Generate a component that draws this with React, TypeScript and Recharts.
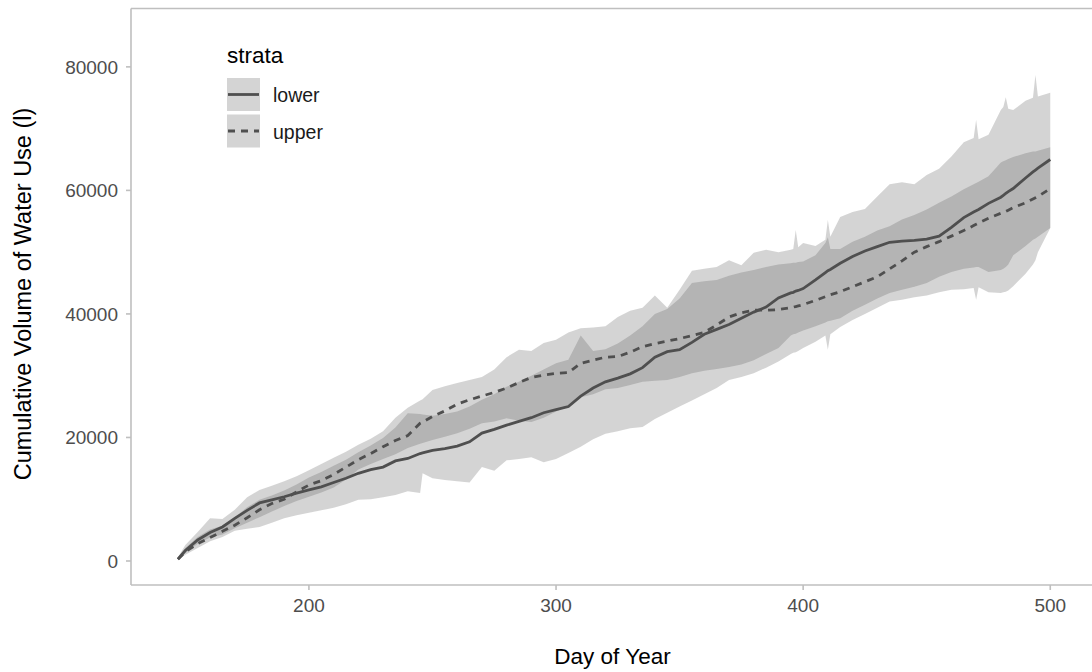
import { ComposedChart, Area, Line, XAxis, YAxis, ReferenceLine, Legend, Label } from 'recharts'

// day of year and the cumulative water use (l)
const days = [
  147, 150, 155, 160, 165, 170, 175, 180, 185, 190, 195, 200, 205, 210, 215, 220, 225, 230, 235, 240,
  245, 246, 250, 255, 260, 265, 270, 275, 280, 285, 290, 295, 300, 305, 310, 315, 320, 325, 330, 335,
  340, 345, 350, 355, 360, 365, 370, 375, 380, 385, 390, 395, 396, 397, 398, 400, 405, 409, 410, 411,
  415, 420, 425, 430, 435, 440, 445, 450, 455, 460, 465, 469, 470, 471, 475, 480, 481, 482, 483, 485,
  490, 493, 494, 495, 500,
]
const lowerMean = [
  300, 1700, 3400, 4600, 5500, 6900, 8200, 9400, 9900, 10400, 11000, 11500, 12000, 12700, 13400, 14200, 14800, 15200, 16200, 16600,
  17400, 17500, 17900, 18200, 18600, 19300, 20700, 21300, 22000, 22600, 23200, 24000, 24500, 25000, 26700, 28000, 29000, 29600, 30300, 31300,
  33000, 33900, 34200, 35400, 36700, 37500, 38300, 39300, 40300, 41100, 42600, 43400, 43500, 43700, 43800, 44100, 45500, 46700, 47000, 47200,
  48200, 49300, 50200, 50900, 51600, 51800, 51900, 52100, 52600, 54000, 55600, 56500, 56700, 56900, 57900, 58900, 59200, 59500, 59800, 60300,
  62000, 63000, 63300, 63600, 65000,
]
const upperMean = [
  300, 1500, 2800, 3800, 4800, 5800, 7000, 8300, 9300, 10000, 11200, 12300, 13000, 14000, 15200, 16400, 17400, 18500, 19500, 20300,
  22300, 22500, 23400, 24300, 25400, 26100, 26700, 27300, 28000, 28900, 29700, 30100, 30400, 30500, 32000, 32500, 33000, 33100, 33800, 34700,
  35200, 35600, 36000, 36500, 37000, 38200, 39500, 40200, 40600, 40600, 40700, 41000, 41100, 41200, 41300, 41500, 42200, 42800, 43000, 43100,
  43600, 44400, 45200, 46000, 47300, 48600, 50000, 50900, 51700, 52600, 53500, 54300, 54500, 54700, 55500, 56300, 56500, 56600, 56800, 57200,
  58000, 58600, 58800, 59000, 60300,
]
const lowerLo = [
  200, 1000, 2100, 3200, 3900, 4900, 5200, 5500, 6200, 6900, 7400, 7800, 8200, 8600, 9200, 9900, 10000, 10300, 10700, 11300,
  11000, 14200, 13400, 13100, 12900, 12700, 15200, 14600, 16300, 16500, 16800, 16000, 16500, 17500, 18500, 19700, 20600, 21000, 21500, 21700,
  23000, 24000, 25000, 26000, 27000, 28000, 29300, 29800, 30400, 31300, 32300, 33500, 33700, 33800, 34000, 34500, 35500, 36500, 34200, 36700,
  37900, 39000, 40000, 41000, 42000, 42300, 42700, 43000, 43500, 43900, 44000, 44200, 42300, 44300, 43500, 43400, 43500, 43600, 43800, 44500,
  46500, 48000, 48700, 50000, 53900,
]
const lowerHi = [
  600, 2600, 4700, 6900, 6800, 8300, 10300, 11500, 12200, 12900, 13700, 14700, 15700, 16700, 17700, 18800, 19800, 21000, 23200, 24800,
  26000, 26200, 27700, 28300, 28800, 29300, 29800, 31000, 33000, 34200, 34000, 35300, 35800, 37000, 37700, 37800, 38000, 39500, 40500, 41000,
  43000, 41000, 43900, 47000, 47300, 47600, 48700, 47900, 49900, 50400, 50000, 50400, 50500, 53600, 50800, 51500, 51000, 52000, 55200, 52500,
  55700, 56500, 57000, 59000, 61000, 61300, 61000, 62500, 63500, 65500, 67800, 68500, 71400, 68300, 69000, 73000, 73500, 75100, 73200, 73000,
  74500, 75000, 78700, 75200, 75800,
]
const upperLo = [
  250, 1300, 2800, 3800, 4300, 5300, 6200, 7100, 8000, 8900, 9700, 10400, 11100, 11900, 13200, 14800, 15700, 16500, 17300, 18300,
  19000, 19100, 19600, 20100, 20700, 21400, 22300, 22600, 23100, 22700, 22500, 23200, 24200, 25000, 26500, 27000, 27800, 28000, 28500, 29000,
  29200, 29300, 29800, 30400, 30800, 31100, 31400, 31800, 32500, 33500, 34500, 36500, 36700, 36800, 37000, 37300, 38000, 38600, 38800, 38900,
  39300, 40500, 41500, 42500, 43400, 43900, 44400, 45000, 46000, 46800, 47300, 47500, 47600, 47600, 46800, 47100, 47300, 47600, 48000, 49500,
  51000, 52000, 52200, 52500, 53900,
]
const upperHi = [
  500, 2100, 3900, 5100, 5700, 7100, 8700, 9900, 10600, 11400, 12400, 13500, 14400, 15400, 16400, 17600, 18700, 19900, 21600, 23900,
  23800, 23700, 23500, 23800, 24200, 25000, 26100, 27000, 28200, 29000, 30000, 31000, 32000, 32600, 36500, 34000, 34300, 35200, 36500, 38000,
  40000, 40800, 42500, 45000, 45300, 45500, 46200, 46700, 47100, 47600, 48000, 48200, 48300, 48300, 48400, 48500, 49500, 51500, 52400, 50500,
  50500, 51700, 52500, 53500, 54200, 55300, 56000, 56900, 58000, 59000, 60200, 61000, 61200, 61400, 62300, 64500, 64700, 64900, 65100, 65400,
  66000, 66300, 66300, 66400, 67000,
]
const xTicks = [200, 300, 400, 500]
const yTicks = [0, 20000, 40000, 60000, 80000]
const strata = ['lower', 'upper']

const rows = days.map((d, i) => ({
  day: d,
  lower: lowerMean[i],
  upper: upperMean[i],
  lowerBand: [lowerLo[i], lowerHi[i]],
  upperBand: [upperLo[i], upperHi[i]],
}))

const FONT = '"Liberation Sans", Arial, sans-serif'
const LINE = '#4f4f4f'
const AXIS = '#bfbfbf'
const Y_MAX = 89450

function StrataLegend() {
  return (
    <svg width={150} height={115} style={{ display: 'block', fontFamily: FONT }}>
      <text x={7} y={23} fontSize={22.5} fill="#000">strata</text>
      {strata.map((s, i) => (
        <g key={s}>
          <rect x={7} y={38 + i * 36.5} width={33} height={33} fill="#d4d4d4" />
          <line x1={8} x2={39} y1={54.5 + i * 36.5} y2={54.5 + i * 36.5} stroke={LINE} strokeWidth={2.8}
            strokeDasharray={i === 1 ? '7 6' : undefined} />
          <text x={53} y={62 + i * 36.5} fontSize={19.5} fill="#1a1a1a">{s}</text>
        </g>
      ))}
    </svg>
  )
}

export default function App() {
  return (
    <div style={{ position: 'fixed', left: 0, top: 0, width: 1092, height: 672, overflow: 'hidden', background: '#fff' }}>
      <ComposedChart width={1100} height={672} data={rows} margin={{ top: 8.5, right: 6, bottom: 0, left: 0 }}
        style={{ fontFamily: FONT }}>
        <XAxis type="number" dataKey="day" domain={[128, 517.7]} ticks={xTicks} allowDataOverflow height={87}
          stroke={AXIS} strokeWidth={1.6} tickSize={5} tickMargin={9}
          tick={{ fill: '#4d4d4d', fontSize: 19, fontFamily: FONT }}>
          <Label content={() => (
            <text x={612.5} y={664} textAnchor="middle" fontSize={22.5} fill="#000" fontFamily={FONT}>Day of Year</text>
          )} />
        </XAxis>
        <YAxis type="number" domain={[-3887, Y_MAX]} ticks={yTicks} allowDataOverflow width={131}
          stroke={AXIS} strokeWidth={1.6} tickSize={5} tickMargin={8}
          tick={{ fill: '#4d4d4d', fontSize: 19, fontFamily: FONT }}>
          <Label content={() => (
            <text transform="translate(31,294) rotate(-90)" textAnchor="middle" fontSize={23.5} fill="#000"
              fontFamily={FONT}>Cumulative Volume of Water Use (l)</text>
          )} />
        </YAxis>
        <ReferenceLine y={Y_MAX} stroke={AXIS} strokeWidth={1.6} />
        <Area dataKey="lowerBand" type="linear" stroke="none" fill="#555555" fillOpacity={0.25}
          isAnimationActive={false} activeDot={false} />
        <Area dataKey="upperBand" type="linear" stroke="none" fill="#555555" fillOpacity={0.25}
          isAnimationActive={false} activeDot={false} />
        <Line dataKey="lower" type="linear" stroke={LINE} strokeWidth={2.8} dot={false} activeDot={false}
          isAnimationActive={false} />
        <Line dataKey="upper" type="linear" stroke={LINE} strokeWidth={2.8} strokeDasharray="7 6" dot={false}
          activeDot={false} isAnimationActive={false} />
        <Legend layout="vertical" align="center" verticalAlign="middle" content={() => <StrataLegend />}
          wrapperStyle={{ left: 220, top: 40, width: 150, height: 115 }} />
      </ComposedChart>
    </div>
  )
}
